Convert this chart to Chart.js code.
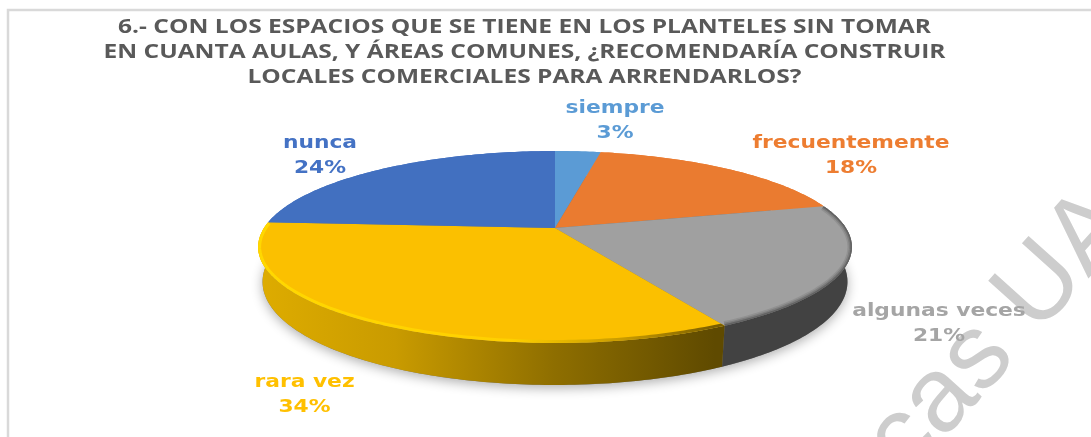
<!DOCTYPE html>
<html><head><meta charset="utf-8">
<style>html,body{margin:0;padding:0;background:#fff}canvas{display:block}</style>
<script src="https://cdn.jsdelivr.net/npm/chart.js@4"></script>
</head><body><canvas id="c" width="1091" height="437"></canvas>
<script>
const titleLines = ["6.- CON LOS ESPACIOS QUE SE TIENE EN LOS PLANTELES SIN TOMAR","EN CUANTA AULAS, Y ÁREAS COMUNES, ¿RECOMENDARÍA CONSTRUIR","LOCALES COMERCIALES PARA ARRENDARLOS?"];
const categories = ["siempre","frecuentemente","algunas veces","rara vez","nunca"];
const percentages = [3,18,21,34,24];
const sliceColors = ["#5B9BD5","#EA7B30","#A0A0A0","#FBC000","#4270C0"];
const labelColors = ["#5B9BD5","#ED7D31","#A5A5A5","#FFC000","#4472C4"];
const labelSpots = [[615,113],[851,148],[939,316],[304.5,387],[320,148]];
const watermarkText = "cas UA";

const CX=555, CY=228, T=291, S=92.2, K=-0.198;
function rimTop(a){const u=Math.cos(a),v=Math.sin(a),d=1+K*v;return [CX+T*u/d,CY+S*v/d];}
function rimBot(a){const p=rimTop(a),v=Math.sin(a);return [CX+(p[0]-CX)*0.985,p[1]+33+9*v];}
function arcPath(ctx,f,a0,a1,move){const n=Math.max(8,Math.ceil(Math.abs(a1-a0)*60));
  for(let i=0;i<=n;i++){const p=f(a0+(a1-a0)*i/n);(i===0&&move)?ctx.moveTo(p[0],p[1]):ctx.lineTo(p[0],p[1]);}}
function sideFill(ctx,i){
  if(i===3){const g=ctx.createLinearGradient(258,0,715,0);
    g.addColorStop(0,"#DEAC00");g.addColorStop(.3,"#C99B00");g.addColorStop(.65,"#8E6E00");g.addColorStop(1,"#5F4A00");return g;}
  if(i===2)return "#424242";
  return sliceColors[i];
}
const pie3d={id:"pie3d",
  afterLayout(chart){const tb=chart.titleBlock;if(tb&&!tb._stretched){tb._stretched=true;const d=tb.draw;
    tb.draw=function(){const c=this.ctx,m=(this.left+this.right)/2;c.save();c.translate(m,0);c.scale(1.29,1);c.translate(-m,0);d.call(this);c.restore();};}},
  beforeDraw(chart){const ctx=chart.ctx;ctx.save();
    ctx.fillStyle="#fff";ctx.fillRect(0,0,chart.width,chart.height);
    ctx.strokeStyle="#D9D9D9";ctx.lineWidth=2.5;ctx.strokeRect(8,10,1200,600);
    ctx.translate(907,480);ctx.rotate(-48*Math.PI/180);
    ctx.font="106px 'Liberation Sans'";ctx.fillStyle="#CDCDCD";ctx.textAlign="left";ctx.textBaseline="alphabetic";
    ctx.fillText(watermarkText,0,0);ctx.restore();},
  beforeDatasetDraw(chart,args){const ctx=chart.ctx,arcs=chart.getDatasetMeta(args.index).data;
    ctx.save();
    ctx.save();ctx.shadowColor="rgba(0,0,0,.32)";ctx.shadowBlur=12;ctx.shadowOffsetY=3;ctx.fillStyle="#777";
    ctx.beginPath();arcPath(ctx,rimBot,0,Math.PI*2,true);ctx.closePath();ctx.fill();ctx.restore();
    arcs.forEach((el,i)=>{const a0=el.startAngle,a1=el.endAngle;ctx.fillStyle=sideFill(ctx,i);
      ctx.beginPath();arcPath(ctx,rimTop,a0,a1,true);arcPath(ctx,rimBot,a1,a0,false);ctx.closePath();ctx.fill();});
    arcs.forEach((el,i)=>{const a0=el.startAngle,a1=el.endAngle;ctx.save();
      ctx.beginPath();ctx.moveTo(CX,CY);arcPath(ctx,rimTop,a0,a1,false);ctx.closePath();
      ctx.fillStyle=sliceColors[i];ctx.fill();ctx.clip();
      if(i===3){const g=ctx.createLinearGradient(258,0,715,0);
        g.addColorStop(0,"#FFD800");g.addColorStop(.55,"#FFD000");g.addColorStop(.8,"#C79A00");g.addColorStop(1,"#7A5E00");
        ctx.strokeStyle=g;ctx.lineWidth=6;ctx.beginPath();arcPath(ctx,rimTop,a0,a1,true);ctx.stroke();}
      if(i===2){[[9,.12],[6,.18],[3,.3]].forEach(([w,o])=>{ctx.strokeStyle="rgba(40,40,40,"+o+")";ctx.lineWidth=w;
        ctx.beginPath();arcPath(ctx,rimTop,a0,a1,true);ctx.stroke();});}
      ctx.restore();});
    ctx.restore();return false;},
  afterDraw(chart){const ctx=chart.ctx;ctx.save();ctx.textAlign="center";ctx.textBaseline="alphabetic";
    ctx.font="bold 18px 'DejaVu Sans'";
    categories.forEach((name,i)=>{const s=labelSpots[i];ctx.fillStyle=labelColors[i];
      [[name,0],[percentages[i]+"%",24.5]].forEach(([t,dy])=>{ctx.save();ctx.translate(s[0],s[1]+dy);ctx.scale(1.21,1);ctx.fillText(t,0,0);ctx.restore();});});
    ctx.restore();}
};
new Chart(document.getElementById("c"),{type:"pie",
  data:{labels:categories,datasets:[{data:percentages,backgroundColor:sliceColors,borderWidth:0}]},
  options:{responsive:false,animation:false,
    layout:{padding:{right:42}},
    plugins:{legend:{display:false},tooltip:{enabled:false},
      title:{display:true,text:titleLines,color:"#595959",align:"center",padding:{top:15,bottom:10},
        font:{family:"'Open Sans'",size:19,weight:"bold",lineHeight:1.316}}}},
  plugins:[pie3d]});
</script></body></html>
